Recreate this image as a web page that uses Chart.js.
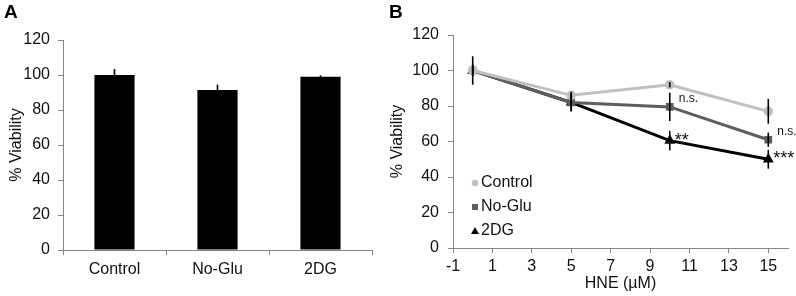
<!DOCTYPE html>
<html lang="en">
<head>
  <meta charset="UTF-8">
  <title>Viability</title>
  <script src="https://cdn.jsdelivr.net/npm/chart.js"></script>
  <style>
    body { margin: 0; background: #fff; font-family: "Liberation Sans", Arial, sans-serif; }
    #wrap { position: relative; width: 796px; height: 296px; overflow: hidden; }
    .panel { position: absolute; top: 0; }
    .letter { position: absolute; top: 1px; font-weight: bold; font-size: 19px; color: #000; }
  </style>
</head>
<body>
<div id="wrap">
  <canvas id="chartA" class="panel" style="left:0" width="400" height="296"></canvas>
  <canvas id="chartB" class="panel" style="left:385px" width="411" height="296"></canvas>
  <div class="letter" style="left:4px">A</div>
  <div class="letter" style="left:389px">B</div>
</div>
<script>
// panel A
const groups = ["Control", "No-Glu", "2DG"];
const baseViability = [100, 91.5, 99];
const baseErr = [3.4, 3, 0.8];

// panel B
const hne = [0, 5, 10, 15];
const hneTicks = [-1, 1, 3, 5, 7, 9, 11, 13, 15];
const controlVals = [100, 86, 92, 77];
const controlErr = [8, 2, 1.5, 7];
const noGluVals = [100, 82, 79.5, 61];
const noGluErr = [3, 5, 8, 4];
const dgVals = [100, 82, 60.5, 50];
const dgErr = [3, 5, 5.5, 5.3];
const yTicks = [0, 20, 40, 60, 80, 100, 120];
// significance marks: [dataset index, point index, text]
const marks = [[1, 2, "n.s."], [2, 2, "**"], [1, 3, "n.s."], [2, 3, "***"]];

const FONT = "'Liberation Sans', Arial, sans-serif";
const AXIS = "#878787";

const errorBars = {
  id: "errorBars",
  afterDatasetsDraw(chart) {
    const ctx = chart.ctx, y = chart.scales.y;
    ctx.save();
    ctx.strokeStyle = "#000";
    ctx.lineWidth = 1.6;
    chart.data.datasets.forEach((ds, i) => {
      const meta = chart.getDatasetMeta(i);
      meta.data.forEach((el, j) => {
        const v = ds.data[j].y !== undefined ? ds.data[j].y : ds.data[j];
        const e = ds.err[j];
        ctx.beginPath();
        ctx.moveTo(el.x, y.getPixelForValue(v + e));
        ctx.lineTo(el.x, y.getPixelForValue(v - e));
        ctx.stroke();
      });
    });
    ctx.restore();
  }
};

function yAxis(width, titlePad, tickPad) {
  return {
    min: 0, max: 120,
    afterBuildTicks: s => { s.ticks = yTicks.map(v => ({ value: v })); },
    afterFit: s => { s.width = width; },
    grid: { drawOnChartArea: false, color: AXIS, tickLength: 5 },
    border: { color: AXIS },
    ticks: { color: "#111", padding: tickPad, font: { family: FONT, size: 16 } },
    title: { display: true, text: "% Viability", color: "#111", padding: { top: titlePad }, font: { family: FONT, size: 16 } }
  };
}

new Chart(document.getElementById("chartA"), {
  type: "bar",
  data: {
    labels: groups,
    datasets: [{
      data: baseViability,
      err: baseErr,
      backgroundColor: "#000",
      barPercentage: 0.39,
      categoryPercentage: 1
    }]
  },
  options: {
    responsive: false,
    animation: false,
    devicePixelRatio: 1,
    layout: { padding: { left: 0, right: 28, top: 40, bottom: 0 } },
    plugins: { legend: { display: false }, tooltip: { enabled: false } },
    scales: {
      x: {
        afterFit: s => { s.height = 46; },
        grid: { offset: true, drawOnChartArea: false, color: AXIS, tickLength: 5 },
        border: { color: AXIS },
        ticks: { color: "#111", padding: 5, font: { family: FONT, size: 16 } }
      },
      y: yAxis(63, 7, 8)
    }
  },
  plugins: [errorBars]
});

const pts = vals => hne.map((x, i) => ({ x: x, y: vals[i] }));

const marksAndLegend = {
  id: "marksAndLegend",
  afterDraw(chart) {
    const ctx = chart.ctx;
    ctx.save();
    ctx.fillStyle = "#111";
    ctx.textBaseline = "middle";
    ctx.textAlign = "left";
    marks.forEach(([d, p, t]) => {
      const el = chart.getDatasetMeta(d).data[p];
      const star = t[0] === "*";
      ctx.font = (star ? "18px " : "12px ") + FONT;
      ctx.fillText(t, el.x + (star ? 5 : 9), el.y + (star ? 0 : -8));
    });
    // legend inside the plot
    const lx = chart.chartArea.left + 22;
    let ly = 183;
    chart.data.datasets.forEach(ds => {
      ctx.fillStyle = ds.pointBackgroundColor;
      ctx.beginPath();
      if (ds.pointStyle === "circle") ctx.arc(lx, ly, 3.2, 0, Math.PI * 2);
      else if (ds.pointStyle === "rect") ctx.rect(lx - 3, ly - 3, 6, 6);
      else { ctx.moveTo(lx, ly - 4); ctx.lineTo(lx + 4, ly + 3); ctx.lineTo(lx - 4, ly + 3); ctx.closePath(); }
      ctx.fill();
      ctx.fillStyle = "#111";
      ctx.font = "16px " + FONT;
      ctx.fillText(ds.label, lx + 6, ly);
      ly += 24;
    });
    ctx.restore();
  }
};

function series(label, vals, err, color, style) {
  return {
    label: label, data: pts(vals), err: err,
    borderColor: color, backgroundColor: color,
    pointBackgroundColor: color, pointBorderColor: color,
    pointStyle: style, pointRadius: 3.3, borderWidth: 3, tension: 0
  };
}

new Chart(document.getElementById("chartB"), {
  type: "line",
  data: {
    datasets: [
      series("Control", controlVals, controlErr, "#c0c0c0", "circle"),
      series("No-Glu", noGluVals, noGluErr, "#5e5e5e", "rect"),
      series("2DG", dgVals, dgErr, "#000000", "triangle")
    ]
  },
  options: {
    responsive: false,
    animation: false,
    devicePixelRatio: 1,
    layout: { padding: { left: 0, right: 8, top: 35, bottom: 0 } },
    plugins: { legend: { display: false }, tooltip: { enabled: false } },
    scales: {
      x: {
        type: "linear", min: -1, max: 16,
        afterBuildTicks: s => { s.ticks = hneTicks.map(v => ({ value: v })); },
        afterFit: s => { s.height = 48; },
        grid: { drawOnChartArea: false, color: AXIS, tickLength: 5 },
        border: { color: AXIS },
        ticks: { color: "#111", padding: 4, font: { family: FONT, size: 16 } },
        title: { display: true, text: "HNE (µM)", color: "#111", padding: { bottom: 3 }, font: { family: FONT, size: 16 } }
      },
      y: yAxis(68, 3, 9)
    }
  },
  plugins: [errorBars, marksAndLegend]
});
</script>
</body>
</html>
